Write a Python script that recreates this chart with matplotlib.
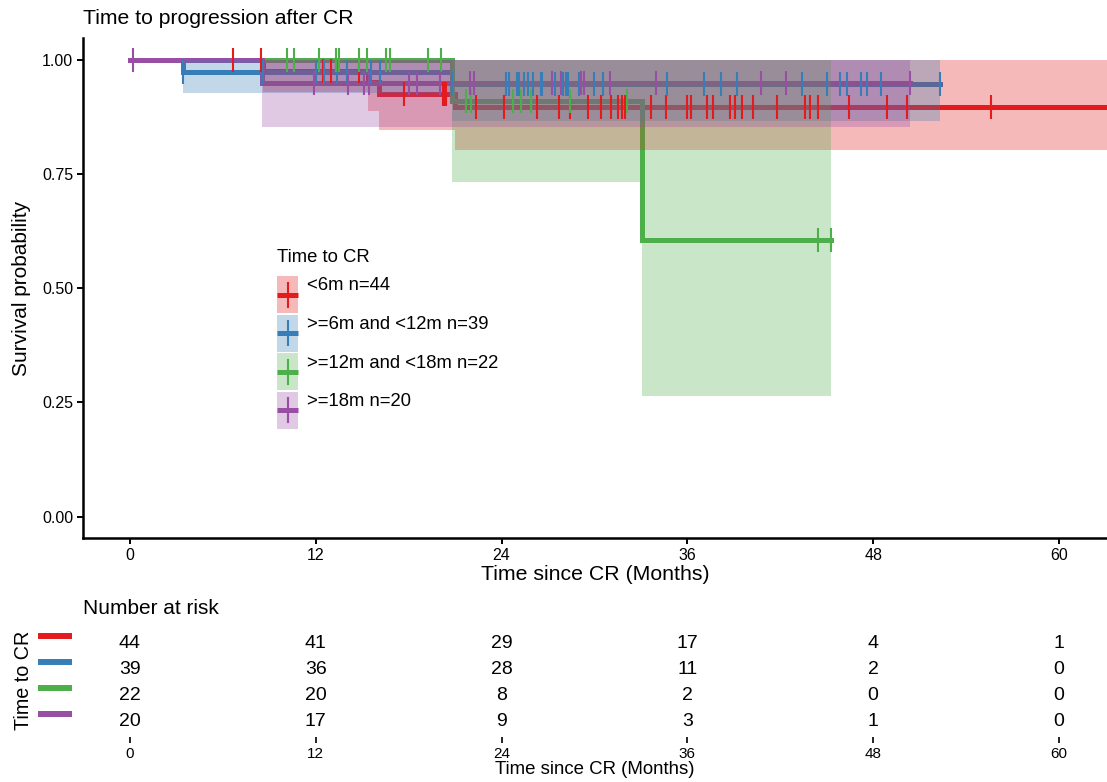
import numpy as np
import matplotlib
matplotlib.use("Agg")
import matplotlib.pyplot as plt
from matplotlib.patches import Rectangle
from matplotlib.lines import Line2D

plt.rcParams['font.family'] = ['Liberation Sans', 'DejaVu Sans']

# groups and colours (Set1)
groups = ['<6m n=44', '>=6m and <12m n=39', '>=12m and <18m n=22', '>=18m n=20']
colors = ['#E41A1C', '#377EB8', '#4DAF4A', '#984EA3']

# step curves: event times, survival after event, CI
red_t = [8.6, 15.4, 16.1, 21.0]
red_s = [0.976, 0.951, 0.925, 0.897]
red_lo = [0.930, 0.888, 0.846, 0.803]
red_end = 64.0
red_cens = [6.65, 8.45, 12.45, 12.5, 12.97, 14.77, 17.68, 20.19, 20.3, 20.39, 22.32,
            24.13, 26.26, 27.74, 28.45, 29.61, 30.45, 31.1, 31.55, 31.81, 32.0, 33.68, 34.65,
            36.0, 36.26, 37.29, 37.68, 38.77, 39.1, 39.55, 40.26, 41.81, 43.61, 43.94, 44.45,
            46.45, 48.9, 50.19, 55.61, 64.0]

blue_t = [3.4, 20.8]
blue_s = [0.974, 0.947]
blue_lo = [0.928, 0.866]
blue_end = 52.32
blue_cens = [3.4, 8.6, 12.0, 12.52, 13.35, 14.0, 15.55, 16.13, 20.8,
             24.26, 24.45, 24.97, 25.1, 25.42, 25.68, 26.0, 26.52, 26.58, 27.48, 27.94,
             28.19, 28.32, 29.0, 29.94, 30.52, 34.71,
             37.1, 38.19, 39.23, 43.42, 45.0, 45.87, 46.32, 47.23, 47.61, 48.52, 52.32]

green_t = [20.8, 33.1]
green_s = [0.909, 0.606]
green_lo = [0.733, 0.263]
green_end = 45.29
green_cens = [10.13, 10.58, 12.19, 13.29, 13.48, 14.77, 15.29, 16.52, 16.77, 19.23,
              20.06, 21.68, 22.0, 24.71, 25.23, 25.87, 28.39, 32.13, 44.45, 45.29]

purple_t = [8.5]
purple_s = [0.95]
purple_lo = [0.853]
purple_end = 50.39
purple_cens = [0.19, 11.87, 14.06, 15.1, 15.42, 18.0, 18.52, 20.0, 21.94, 22.19,
               27.29, 27.81, 29.1, 29.35, 31.0, 34.0, 40.77, 42.39, 50.39]

curves = [
    (red_t, red_s, red_lo, red_end, red_cens),
    (blue_t, blue_s, blue_lo, blue_end, blue_cens),
    (green_t, green_s, green_lo, green_end, green_cens),
    (purple_t, purple_s, purple_lo, purple_end, purple_cens),
]

# number at risk
risk_times = [0, 12, 24, 36, 48, 60]
risk_red = [44, 41, 29, 17, 4, 1]
risk_blue = [39, 36, 28, 11, 2, 0]
risk_green = [22, 20, 8, 2, 0, 0]
risk_purple = [20, 17, 9, 3, 1, 0]
risk = [risk_red, risk_blue, risk_green, risk_purple]

W, H = 1107, 782
fig = plt.figure(figsize=(W / 100, H / 100), dpi=100)
ax = fig.add_axes([83 / W, 1 - 538 / H, 1 - 83 / W, (538 - 38) / H])

for (t, s, lo, end, cens), c in zip(curves, colors):
    tt = np.r_[0.0, t, end]
    ss = np.r_[1.0, s, s[-1]]
    ax.step(tt, ss, where='post', color=c, lw=3.6, zorder=2, solid_joinstyle='miter')

for (t, s, lo, end, cens), c in zip(curves, colors):
    tt = np.r_[t, end]
    ll = np.r_[lo, lo[-1]]
    ax.fill_between(tt, ll, np.ones_like(ll), step='post', color=c, alpha=0.3, lw=0, zorder=3)

for (t, s, lo, end, cens), c in zip(curves, colors):
    sv = np.r_[1.0, s]
    idx = np.searchsorted(np.array(t), np.array(cens), side='right')
    ax.plot(cens, sv[idx], ls='none', marker='|', ms=17, mew=1.5, color=c, zorder=4)

ax.set_xlim(-3.03, 63.1)
ax.set_ylim(-0.047, 1.048)
ax.set_xticks(risk_times)
ax.set_yticks([0, 0.25, 0.5, 0.75, 1.0])
ax.set_yticklabels(['0.00', '0.25', '0.50', '0.75', '1.00'])
for sp in ['top', 'right']:
    ax.spines[sp].set_visible(False)
for sp in ['left', 'bottom']:
    ax.spines[sp].set_linewidth(1.8)
ax.tick_params(labelsize=11.5, length=4, width=1.4, colors='black', pad=3)
ax.set_xlabel('Time since CR (Months)', fontsize=15.3, labelpad=2)
ax.set_ylabel('Survival probability', fontsize=15, labelpad=8)
fig.text(83 / W, 1 - 18 / H, 'Time to progression after CR', fontsize=15.2, va='center', ha='left')

# legend drawn by hand (pixel layout of the reference)
fig.text(277 / W, 1 - 258 / H, 'Time to CR', fontsize=13.3, va='center', ha='left')
for i, (g, c) in enumerate(zip(groups, colors)):
    top = 276 + i * 38.6
    cy = top + 18.5
    fig.add_artist(Rectangle((277 / W, 1 - (top + 37) / H), 21 / W, 37 / H,
                             transform=fig.transFigure, facecolor=c, alpha=0.3, lw=0))
    fig.add_artist(Line2D([277 / W, 298 / W], [1 - cy / H, 1 - cy / H], color=c, lw=3.6,
                          transform=fig.transFigure, solid_capstyle='butt'))
    fig.add_artist(Line2D([287.5 / W, 287.5 / W], [1 - (cy - 12) / H, 1 - (cy + 12) / H],
                          color=c, lw=1.5, transform=fig.transFigure))
    fig.text(307 / W, 1 - (top + 10) / H, g, fontsize=13.3, va='center', ha='left')

# risk table
axr = fig.add_axes([83 / W, 1 - 737 / H, 1 - 83 / W, 107 / H])
axr.set_xlim(-3.03, 63.1)
axr.set_ylim(-0.615, 3.5)
for i, (row, c) in enumerate(zip(risk, colors)):
    y = 3 - i
    for tx, n in zip(risk_times, row):
        axr.text(tx, y, str(n), ha='center', va='center', fontsize=14)
    axr.plot([-0.044, -0.0107], [y + 0.27, y + 0.27], color=c, lw=4.3,
             transform=axr.get_yaxis_transform(), clip_on=False, solid_capstyle='butt')
for sp in axr.spines.values():
    sp.set_visible(False)
axr.set_yticks([])
axr.set_xticks(risk_times)
axr.tick_params(axis='x', labelsize=11, length=4, width=1.2, pad=3)
axr.set_xlabel('Time since CR (Months)', fontsize=13.4, labelpad=0)
fig.text(83 / W, 1 - 608 / H, 'Number at risk', fontsize=15, va='center', ha='left')
fig.text(24 / W, 1 - 680 / H, 'Time to CR', fontsize=14.2, va='center', ha='center', rotation=90)

fig.savefig('out.png', dpi=100)
